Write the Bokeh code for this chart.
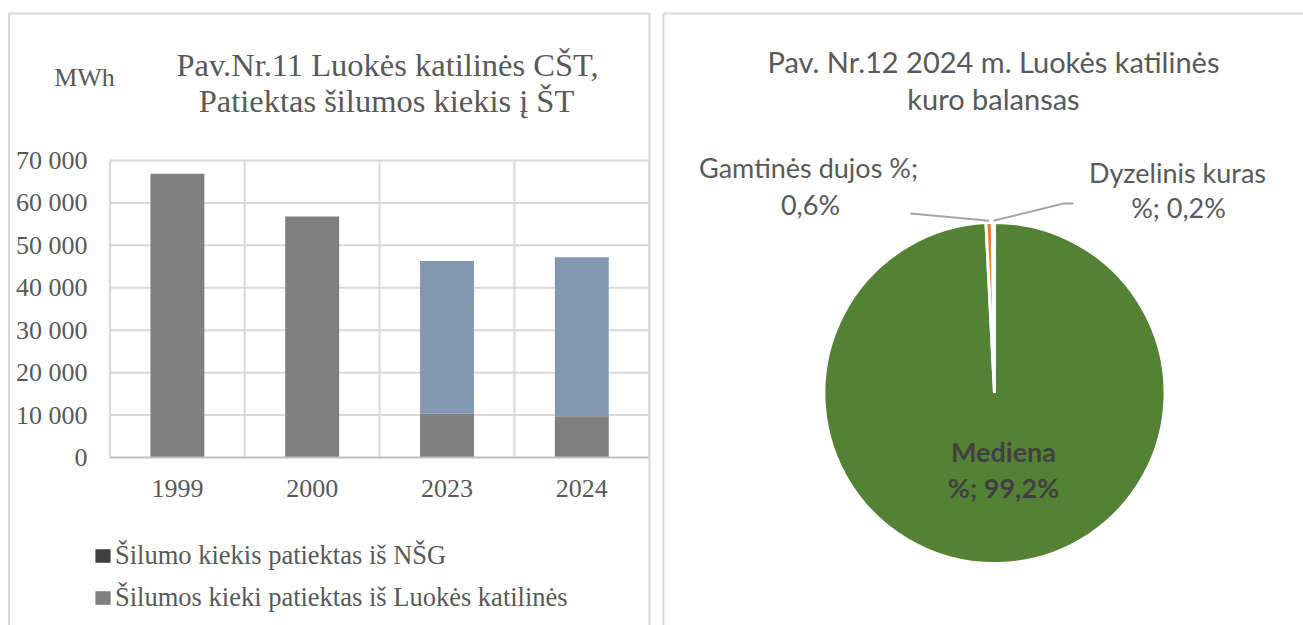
import numpy as np
from bokeh.plotting import figure
from bokeh.models import (ColumnDataSource, FixedTicker, Legend, LegendItem, Range1d, LinearAxis)
from bokeh.core.properties import value
from bokeh.embed import file_html
from bokeh.resources import INLINE

# ---------------- data ----------------
years = ["1999", "2000", "2023", "2024"]
heat_luokes = [66900, 56800, 10300, 9700]     # Šilumos kiekis patiektas iš Luokės katilinės, MWh
heat_nsg = [0, 0, 36000, 37500]               # Šilumos kiekis patiektas iš NŠG, MWh
y_ticks = [0, 10000, 20000, 30000, 40000, 50000, 60000, 70000]
y_tick_labels = ["0", "10 000", "20 000", "30 000", "40 000", "50 000", "60 000", "70 000"]
bar_title = ["Pav.Nr.11 Luokės katilinės CŠT,", "Patiektas šilumos kiekis į ŠT"]
y_unit = "MWh"
legend_labels = ["Šilumo kiekis patiektas iš NŠG", "Šilumos kieki patiektas iš Luokės katilinės"]

fuel_names = ["Mediena", "Gamtinės dujos", "Dyzelinis kuras"]
fuel_shares = [99.2, 0.6, 0.2]
fuel_label_lines = [["Mediena", "%; 99,2%"], ["Gamtinės dujos %;", "0,6%"], ["Dyzelinis kuras", "%; 0,2%"]]
pie_title = ["Pav. Nr.12 2024 m. Luokės katilinės", "kuro balansas"]

# ---------------- styles / layout (page pixels) ----------------
GRAY = "#7f7f7f"
BLUE = "#8497b0"
DARK = "#404040"
TXT = "#595959"
GRID = "#d9d9d9"
fuel_colors = ["#548235", "#ed7d31", "#a5a5a5"]
SERIF = "Liberation Serif"
SANS = "Lato"

W, H = 1303, 625
BX0, BUNIT = 109.5, 134.8            # bar plot area: left edge px, px per category
BY0, BYS = 457.0, 297.0 / 70000.0    # zero line px, px per MWh
PCX, PCY, PR = 994.0, 392.5, 170.6   # pie centre and radius, px

x_range = Range1d(-BX0 / BUNIT, (W - BX0) / BUNIT)
y_range = Range1d(-(H - BY0) / BYS, BY0 / BYS)

p = figure(width=W, height=H, x_range=x_range, y_range=y_range, min_border=0,
           output_backend="svg", toolbar_location=None,
           x_axis_location=None, y_axis_location=None, outline_line_color=None,
           background_fill_color="white", border_fill_color="white")
p.grid.visible = False
p.extra_x_ranges = {"px": Range1d(0, W), "pie": Range1d(-PCX / PR, (W - PCX) / PR)}
p.extra_y_ranges = {"px": Range1d(H, 0), "pie": Range1d(-(H - PCY) / PR, PCY / PR)}

n = len(years)
bx = [i + 0.5 for i in range(n)]

# grid lines of the bar chart
p.segment(x0=0, x1=n, y0=y_ticks[1:], y1=y_ticks[1:], line_color=GRID, line_width=2)
p.segment(x0=list(range(n + 1)), x1=list(range(n + 1)), y0=0, y1=y_ticks[-1],
          line_color=GRID, line_width=2)

# stacked bars
src = ColumnDataSource(dict(x=bx, luokes=heat_luokes, nsg=heat_nsg))
p.vbar_stack(["luokes", "nsg"], x="x", width=0.4, fill_color=[GRAY, BLUE],
             line_color=None, source=src)
p.segment(x0=0, x1=n, y0=0, y1=0, line_color="#bfbfbf", line_width=2)

# axes (drawn at fixed positions inside the page)
xaxis = LinearAxis(ticker=FixedTicker(ticks=bx),
                   major_label_overrides={b: y for b, y in zip(bx, years)},
                   fixed_location=(BY0 - 508.5) / BYS)
xaxis.axis_line_color = None
xaxis.major_tick_line_color = None
xaxis.minor_tick_line_color = None
xaxis.major_tick_out = 0
xaxis.major_tick_in = 0
xaxis.minor_tick_out = 0
xaxis.major_label_standoff = -29
xaxis.major_label_text_font = SERIF
xaxis.major_label_text_font_size = "26px"
xaxis.major_label_text_color = TXT
p.add_layout(xaxis, "below")

yaxis = LinearAxis(ticker=FixedTicker(ticks=y_ticks),
                   major_label_overrides={t: s for t, s in zip(y_ticks, y_tick_labels)},
                   fixed_location=(15.0 - BX0) / BUNIT)
yaxis.axis_line_color = None
yaxis.major_tick_line_color = None
yaxis.minor_tick_line_color = None
yaxis.major_tick_out = 0
yaxis.major_tick_in = 0
yaxis.minor_tick_out = 0
yaxis.major_label_standoff = -72
yaxis.major_label_text_font = SERIF
yaxis.major_label_text_font_size = "26px"
yaxis.major_label_text_color = TXT
p.add_layout(yaxis, "left")

# panel frames
p.line([8.5, 8.5, 649, 649], [640, 13, 13, 640], line_color=GRID, line_width=2,
       x_range_name="px", y_range_name="px")
p.line([663, 663, 1320], [640, 13, 13], line_color=GRID, line_width=2,
       x_range_name="px", y_range_name="px")

# bar chart texts
p.text(x=[387, 386], y=[64, 100], text=bar_title, text_align="center", text_baseline="middle",
       text_font=value(SERIF), text_font_size="32.5px", text_color=TXT,
       x_range_name="px", y_range_name="px")
p.text(x=[84], y=[77], text=[y_unit], text_align="center", text_baseline="middle",
       text_font=value(SERIF), text_font_size="26px", text_color=TXT,
       x_range_name="px", y_range_name="px")

# legend (styled as in the picture); its swatch renderers sit outside the visible range
leg_nsg = p.vbar(x=[-50], top=[0], width=0.4, fill_color=DARK, line_color=None)
leg_luo = p.vbar(x=[-50], top=[0], width=0.4, fill_color=GRAY, line_color=None)
legend = Legend(items=[LegendItem(label=legend_labels[0], renderers=[leg_nsg]),
                       LegendItem(label=legend_labels[1], renderers=[leg_luo])],
                location=(93, 12), orientation="vertical",
                background_fill_alpha=0, border_line_color=None,
                label_text_font=SERIF, label_text_font_size="26.5px", label_text_color=TXT,
                glyph_width=19, glyph_height=17, label_standoff=3, spacing=11,
                padding=0, margin=0)
p.add_layout(legend)

# ---------------- pie ----------------
shares = np.array(fuel_shares, dtype=float)
cum = np.concatenate([[0.0], np.cumsum(shares)]) / shares.sum()
start = np.pi / 2 - cum[:-1] * 2 * np.pi
end = np.pi / 2 - cum[1:] * 2 * np.pi
mid = np.pi / 2 - (cum[:-1] + cum[1:]) / 2 * 2 * np.pi
psrc = ColumnDataSource(dict(start=start, end=end, color=fuel_colors, name=fuel_names))
p.wedge(x=0, y=0, radius=1, start_angle="start", end_angle="end", direction="clock",
        fill_color="color", line_color="white", line_width=3, source=psrc,
        x_range_name="pie", y_range_name="pie")

# leader lines from the small slices to their labels
ax = PCX + 1.01 * PR * np.cos(mid)
ay = PCY - 1.01 * PR * np.sin(mid)
p.line([ax[1], 910], [ay[1], 213], line_color="#a6a6a6", line_width=2,
       x_range_name="px", y_range_name="px")
p.line([ax[2], 1063, 1073], [ay[2], 203, 203], line_color="#a6a6a6", line_width=2,
       x_range_name="px", y_range_name="px")

p.text(x=[993, 993], y=[61, 98], text=pie_title, text_align="center", text_baseline="middle",
       text_font=value(SANS), text_font_size="29px", text_color=TXT,
       x_range_name="px", y_range_name="px")
p.text(x=[808, 810], y=[167, 204], text=fuel_label_lines[1], text_align="center",
       text_baseline="middle", text_font=value(SANS), text_font_size="27px", text_color=TXT,
       x_range_name="px", y_range_name="px")
p.text(x=[1177, 1178], y=[172, 207], text=fuel_label_lines[2], text_align="center",
       text_baseline="middle", text_font=value(SANS), text_font_size="27px", text_color=TXT,
       x_range_name="px", y_range_name="px")
p.text(x=[1003, 1003], y=[451, 487], text=fuel_label_lines[0], text_align="center",
       text_baseline="middle", text_font=value(SANS), text_font_size="27px",
       text_font_style="bold", text_color=DARK, x_range_name="px", y_range_name="px")

open("out.html", "w").write(file_html(p, INLINE))
